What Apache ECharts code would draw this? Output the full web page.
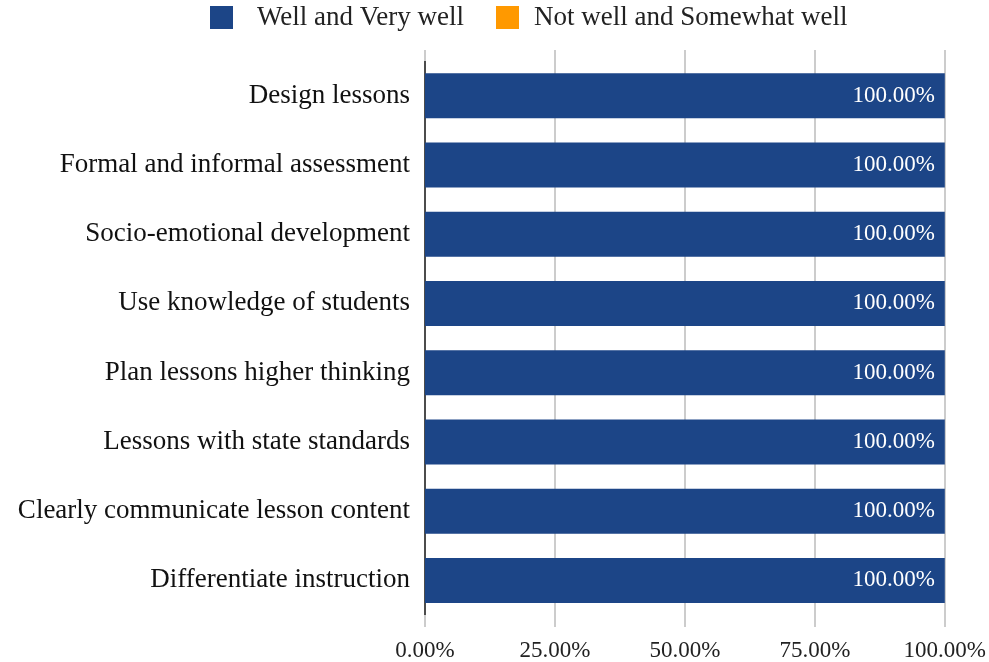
<!DOCTYPE html>
<html><head><meta charset="utf-8">
<script src="https://cdn.jsdelivr.net/npm/echarts@6/dist/echarts.min.js"></script>
<style>html,body{margin:0;padding:0;background:#fff}#c{width:989px;height:662px}</style>
</head><body><div id="c"></div>
<script>
const categories = ["Design lessons","Formal and informal assessment","Socio-emotional development","Use knowledge of students","Plan lessons higher thinking","Lessons with state standards","Clearly communicate lesson content","Differentiate instruction"];
const seriesNames = ["Well and Very well","Not well and Somewhat well"];
const wellValues = [100,100,100,100,100,100,100,100];
const notWellValues = [0,0,0,0,0,0,0,0];
const xTicks = [0,25,50,75,100];

const FONT = '"Liberation Serif","Times New Roman",serif';
const chart = echarts.init(document.getElementById('c'));
const gridCol = '#cccccc';
chart.setOption({
  animation:false,
  textStyle:{fontFamily:FONT},
  legend:{top:-1,left:205,itemWidth:23,itemHeight:23,itemGap:32,
    icon:'rect',
    textStyle:{fontFamily:FONT,fontSize:27,color:'#222'},
    data:[{name:seriesNames[0],textStyle:{padding:[0,0,0,19]}},
          {name:seriesNames[1],textStyle:{padding:[0,0,0,10]}}]},
  grid:{left:425,right:41,top:61,bottom:45,containLabel:false},
  xAxis:[{type:'value',min:xTicks[0],max:xTicks[xTicks.length-1],interval:25,position:'bottom',
    axisLine:{show:false},
    axisTick:{show:true,length:12,lineStyle:{color:gridCol,width:2}},
    splitLine:{show:true,lineStyle:{color:gridCol,width:2}},
    axisLabel:{margin:24,fontFamily:FONT,fontSize:23,color:'#222',formatter:v=>v.toFixed(2)+'%'}},
   {type:'value',min:xTicks[0],max:xTicks[xTicks.length-1],interval:25,position:'top',
    axisLine:{show:false},
    axisTick:{show:true,length:11,lineStyle:{color:gridCol,width:2}},
    splitLine:{show:false},axisLabel:{show:false}}],
  yAxis:{type:'category',data:categories,inverse:true,
    axisLine:{show:true,lineStyle:{color:'#222',width:1.5}},
    axisTick:{show:false},
    axisLabel:{margin:15,fontFamily:FONT,fontSize:27,color:'#111'}},
  series:[
    {name:seriesNames[0],type:'bar',stack:'s',data:wellValues,barWidth:45,
     itemStyle:{color:'#1c4587'},
     label:{show:true,position:'insideRight',distance:10,color:'#fff',fontFamily:FONT,fontSize:23,formatter:p=>p.value.toFixed(2)+'%'}},
    {name:seriesNames[1],type:'bar',stack:'s',data:notWellValues,barWidth:45,
     itemStyle:{color:'#ff9900'}}
  ]
});
</script></body></html>
